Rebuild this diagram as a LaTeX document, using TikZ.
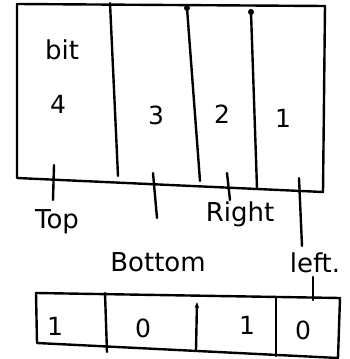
\documentclass[tikz,border=0pt]{standalone}
\usepackage{fontspec}
\setmainfont{DejaVu Sans}
\usetikzlibrary{arrows.meta}
\begin{document}
\begin{tikzpicture}[x=1pt,y=-1pt,
  ink/.style={line width=2.4pt,line cap=round,line join=round},
  lbl/.style={font=\fontsize{26}{28}\selectfont,inner sep=0pt},
  dig/.style={font=\fontsize{25}{28}\selectfont,inner sep=0pt}]
\useasboundingbox (0,0) rectangle (350,359);
% top register
\coordinate (TL) at (17,4);
\coordinate (TR) at (325,6);
\coordinate (BR) at (323,192);
\coordinate (BL) at (17,178);
\draw[ink] (TL) -- (TR) -- (BR) -- (BL) -- cycle;
\coordinate (d1t) at (110,3);  \coordinate (d1b) at (118,176);
\coordinate (d2t) at (187,8);  \coordinate (d2b) at (200,181);
\coordinate (d3t) at (251,12); \coordinate (d3b) at (257,188);
\draw[ink] (d1t) -- (d1b);
\draw[ink] (d2t) -- (d2b);
\draw[ink] (d3t) -- (d3b);
\fill (d2t) circle (3pt);
\fill (d3t) circle (3pt);
\node[lbl] (bit) at (62,50) {bit};
\node[dig] (n4) at (58,104) {4};
\node[dig] (n3) at (156,115) {3};
\node[dig] (n2) at (222,114) {2};
\node[dig] (n1) at (283,118) {1};
% labels
\node[lbl] (top) at (57,222) {Top};
\node[lbl] (right) at (240,214) {Right};
\node[lbl] (bottom) at (158,262) {Bottom};
\node[lbl] (left) at (315,263) {left.};
\coordinate (t1) at (54,165); \coordinate (t1e) at (53,200);
\coordinate (t2) at (153,173); \coordinate (t2e) at (157,218);
\coordinate (t3) at (227,173); \coordinate (t3e) at (230,200);
\coordinate (t4) at (299,178); \coordinate (t4e) at (302,246);
\draw[ink] (t1) -- (t1e);
\draw[ink] (t2) -- (t2e);
\draw[ink] (t3) -- (t3e);
\draw[ink] (t4) -- (t4e);
% bottom register
\coordinate (bTL) at (36,293);
\coordinate (bTR) at (340,298);
\coordinate (bBR) at (338,358);
\coordinate (bBL) at (37,343);
\draw[ink] (bTL) -- (bTR) -- (bBR) -- (bBL) -- cycle;
\draw[ink] (105,293) -- (107,352);
\draw[ink,-{Stealth[length=6pt]}] (196,350) -- (197,302);
\draw[ink] (276,298) -- (276,356);
\coordinate (lf) at (313,277);
\coordinate (lfe) at (313,300);
\draw[ink] (lf) -- (lfe);
\node[dig] (v1) at (55,326) {1};
\node[dig] (v2) at (143,328) {0};
\node[dig] (v3) at (247,325) {1};
\node[dig] (v4) at (303,330) {0};
\end{tikzpicture}
\end{document}
